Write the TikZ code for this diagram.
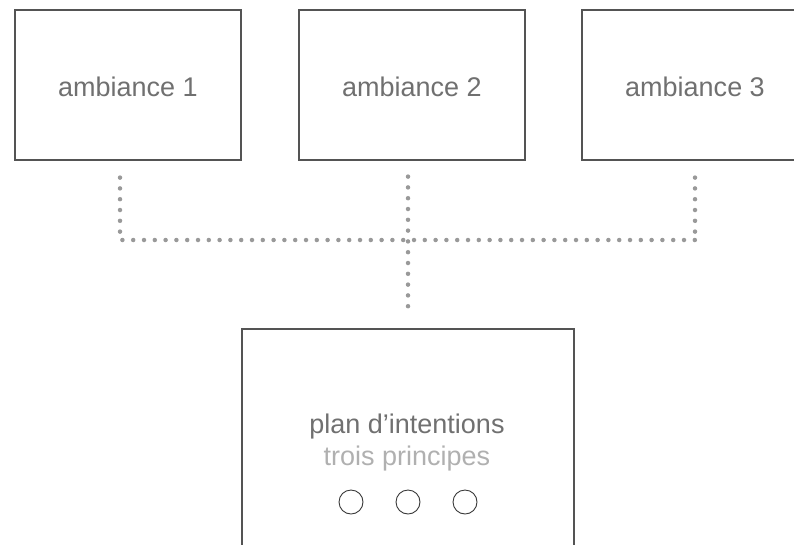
\documentclass[tikz,border=0pt]{standalone}
\usepackage{fontspec}
\setmainfont{Liberation Sans}
\definecolor{BoxGrey}{rgb}{0.33,0.33,0.33}
\definecolor{TextGrey}{rgb}{0.44,0.44,0.44}
\definecolor{PaleGrey}{rgb}{0.69,0.69,0.69}
\definecolor{DotGrey}{rgb}{0.60,0.60,0.60}
\definecolor{RingGrey}{rgb}{0.22,0.22,0.22}
\usetikzlibrary{positioning, calc}

\begin{document}
\begin{tikzpicture}[x=1pt,y=-1pt,
    ambbox/.style={draw=BoxGrey,line width=1.2pt,inner sep=0pt,
        minimum width=226pt,minimum height=150pt,
        text=TextGrey,font=\fontsize{27}{32}\selectfont,
        text height=23.4pt,text depth=0pt},
    planbox/.style={draw=BoxGrey,line width=1.2pt,inner sep=0pt,
        minimum width=332pt,minimum height=250pt},
    dotline/.style={DotGrey,line width=4.5pt,line cap=round,
        dash pattern=on 0pt off 10.8pt},
    ring/.style={circle,draw=RingGrey,line width=0.9pt,inner sep=0pt,
        minimum size=24pt}]

    \useasboundingbox (0,0) rectangle (794,544);
    \clip (0,0) rectangle (794,544);

    % ambiance boxes
    \node[ambbox] (amb1) at (128,85) {ambiance 1};
    \node[ambbox] (amb2) at (412,85) {ambiance 2};
    \node[ambbox] (amb3) at (695,85) {ambiance 3};

    % plan box
    \node[planbox] (plan) at (408,454) {};
    \node[anchor=base,text=TextGrey,font=\fontsize{27}{32}\selectfont,inner sep=0pt]
        (title) at (407,433) {plan d’intentions};
    \node[anchor=base,text=PaleGrey,font=\fontsize{27}{32}\selectfont,inner sep=0pt]
        (subtitle) at (407,465) {trois principes};

    % three principles
    \foreach \i/\x in {1/351,2/408,3/465}
        \node[ring] (pr\i) at (\x,502) {};

    % dotted connectors
    \coordinate (bus) at (408,240);  % junction of the dotted lines
    \coordinate (d1) at ([xshift=-8pt,yshift=-17pt]amb1.south);
    \coordinate (d2) at ([xshift=-4pt,yshift=-16pt]amb2.south);
    \coordinate (d3) at ([yshift=-17pt]amb3.south);
    \draw[dotline] (d1) -- (d1 |- bus) -- (d3 |- bus);
    \draw[dotline] (d3) -- (d3 |- bus);
    \draw[dotline] (d2) -- ([yshift=17pt]plan.north);

\end{tikzpicture}
\end{document}
